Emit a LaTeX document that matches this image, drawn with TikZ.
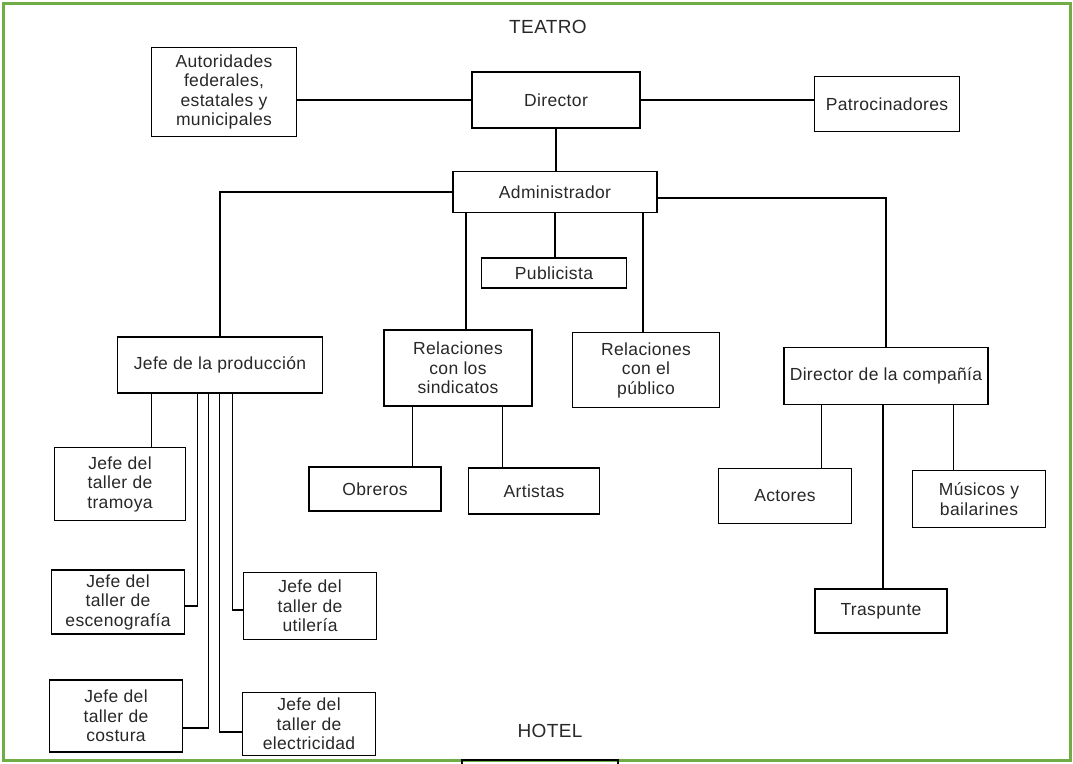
\documentclass[tikz,border=0pt]{standalone}
\usepackage{fontspec}
\setmainfont{Liberation Sans}[LetterSpace=2]
\definecolor{marco}{RGB}{112,173,71}
\definecolor{tinta}{RGB}{40,40,40}
\begin{document}
\begin{tikzpicture}[x=1pt,y=-1pt,
	caja/.style={draw=black,line width=1.5pt,align=center,inner sep=0pt,text=tinta,font=\fontsize{17.5}{19.5}\selectfont},
	titulo/.style={text=tinta,font=\fontsize{19}{22}\selectfont},
	linea/.style={line width=1.1pt,black}]
	\useasboundingbox (0,0) rectangle (1073,763);
	\fill[white] (0,0) rectangle (1073,763);
	\draw[marco,line width=3pt] (3,3) rectangle (1070,760);
	\node[titulo] (teatro) at (548,27) {TEATRO};
	\node[titulo] (hotel) at (550,731) {HOTEL};
	\node[caja,minimum width=145pt,minimum height=89pt] (aut) at (224,92) {Autoridades\\federales,\\estatales y\\municipales};
	\node[caja,minimum width=168pt,minimum height=56pt] (dir) at (556,100) {Director};
	\node[caja,minimum width=145pt,minimum height=55pt] (pat) at (887,104) {Patrocinadores};
	\node[caja,minimum width=204pt,minimum height=41pt] (adm) at (555,192) {Administrador};
	\node[caja,minimum width=145pt,minimum height=30pt] (pub) at (554,273) {Publicista};
	\node[caja,minimum width=205pt,minimum height=56pt] (prod) at (220,365) {Jefe de la producción};
	\node[caja,minimum width=148pt,minimum height=76pt] (sind) at (458,368) {Relaciones\\con los\\sindicatos};
	\node[caja,minimum width=147pt,minimum height=75pt] (rpub) at (646,370) {Relaciones\\con el\\público};
	\node[caja,minimum width=204pt,minimum height=57pt] (comp) at (886,376) {Director de la compañía};
	\node[caja,minimum width=132pt,minimum height=44pt] (obr) at (375,489) {Obreros};
	\node[caja,minimum width=131pt,minimum height=46pt] (art) at (534,491) {Artistas};
	\node[caja,minimum width=133pt,minimum height=55pt] (act) at (785,496) {Actores};
	\node[caja,minimum width=133pt,minimum height=57pt] (mus) at (979,499) {Músicos y\\bailarines};
	\node[caja,minimum width=132pt,minimum height=44pt] (tras) at (881,611) {Traspunte};
	\node[caja,minimum width=131pt,minimum height=73pt] (tram) at (120,484) {Jefe del\\taller de\\tramoya};
	\node[caja,minimum width=133pt,minimum height=64pt] (esc) at (118,602) {Jefe del\\taller de\\escenografía};
	\node[caja,minimum width=133pt,minimum height=67pt] (uti) at (310,606) {Jefe del\\taller de\\utilería};
	\node[caja,minimum width=133pt,minimum height=72pt] (cost) at (116,716) {Jefe del\\taller de\\costura};
	\node[caja,minimum width=133pt,minimum height=63pt] (elec) at (309,724) {Jefe del\\taller de\\electricidad};
	\draw[linea] (dir.west) -- (dir.west -| aut.east);
	\draw[linea] (dir.east) -- (dir.east -| pat.west);
	\draw[linea] (dir.south) -- (dir.south |- adm.north);
	\draw[linea] (adm.west) -| (prod.north);
	\draw[linea] ([yshift=-6pt]adm.east) -| (comp.north);
	\draw[linea] ([xshift=8pt]sind.north) -- ([xshift=8pt]sind.north |- adm.south);
	\draw[linea] (adm.south) -- (adm.south |- pub.north);
	\draw[linea] ([xshift=-3pt]rpub.north) -- ([xshift=-3pt]rpub.north |- adm.south);
	\draw[linea] ([xshift=29pt]sind.south west) -- ([xshift=29pt]sind.south west |- obr.north);
	\draw[linea] ([xshift=-30pt]sind.south east) -- ([xshift=-30pt]sind.south east |- art.north);
	\draw[linea] ([xshift=38pt]comp.south west) -- ([xshift=38pt]comp.south west |- act.north);
	\draw[linea] ([xshift=-3pt]comp.south) -- ([xshift=-3pt]comp.south |- tras.north);
	\draw[linea] ([xshift=-35pt]comp.south east) -- ([xshift=-35pt]comp.south east |- mus.north);
	\draw[linea] ([xshift=35pt]prod.south west) -- ([xshift=35pt]prod.south west |- tram.north);
	\draw[linea] ([xshift=81pt]prod.south west) |- ([yshift=-4pt]esc.east);
	\draw[linea] ([xshift=92pt]prod.south west) |- ([yshift=-12pt]cost.east);
	\draw[linea] ([xshift=103pt]prod.south west) |- ([yshift=-8pt]elec.west);
	\draw[linea] ([xshift=116pt]prod.south west) |- ([yshift=-4pt]uti.west);
	\draw[line width=1.5pt] (462,766) -- (462,760) -- (618,760) -- (618,766);
\end{tikzpicture}
\end{document}
